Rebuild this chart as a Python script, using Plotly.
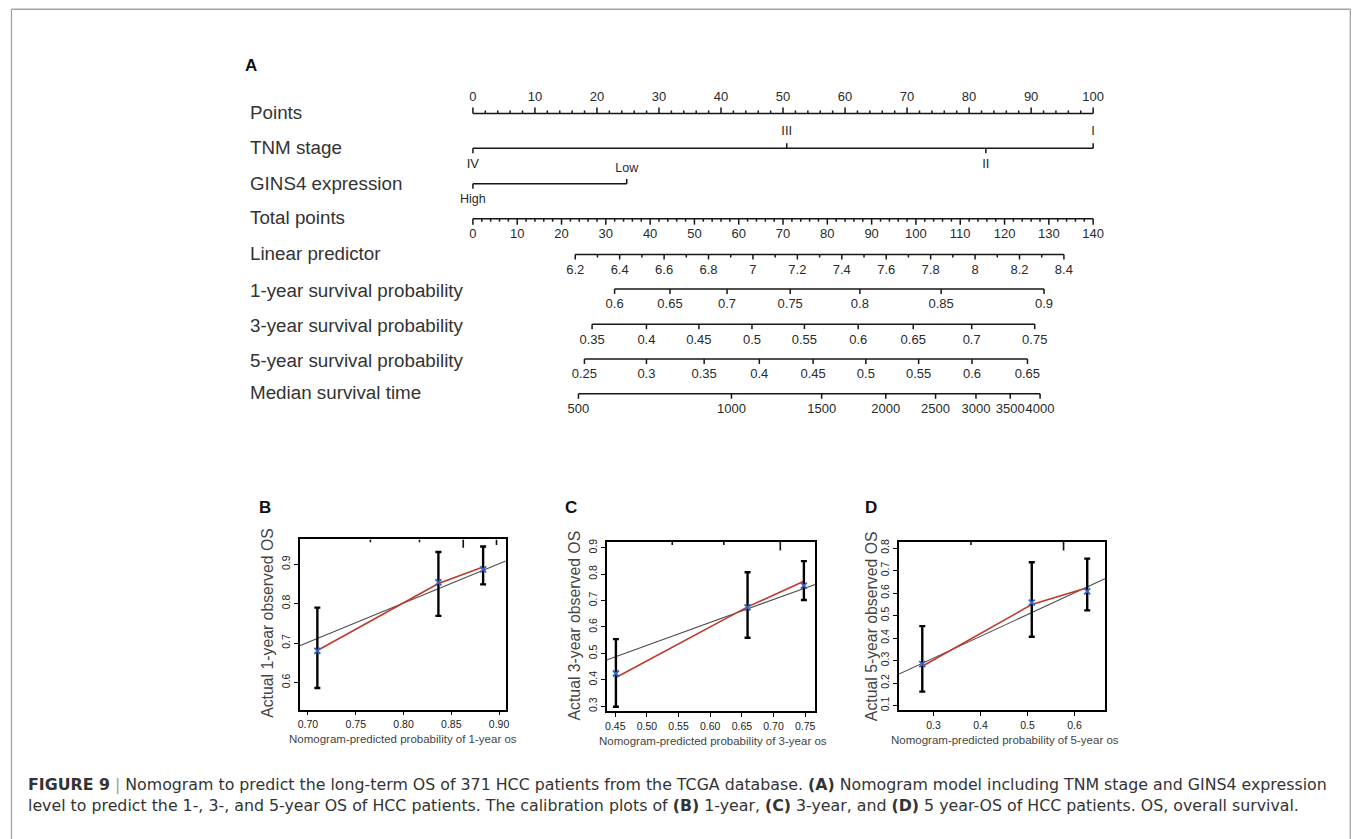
import plotly.graph_objects as go

W, H = 1357, 839
FONT = "Arial, Liberation Sans, Helvetica, sans-serif"
CAPFONT = "DejaVu Sans, Verdana, sans-serif"

# ------------------------------------------------------------------ data
# Nomogram (A) -- positions read on the "Points" (0-100) or "Total points" (0-140) scales
points_ticks = list(range(0, 101, 10))
points_minor = [v for v in range(0, 101, 2) if v % 10]
tnm_levels = ["I", "II", "III", "IV"]
tnm_points = [100.0, 82.7, 50.6, 0.0]
gins4_levels = ["Low", "High"]
gins4_points = [24.8, 0.0]
total_ticks = list(range(0, 141, 10))
total_minor = [v for v in range(0, 141, 2) if v % 10]
lp_major = [6.2, 6.4, 6.6, 6.8, 7.0, 7.2, 7.4, 7.6, 7.8, 8.0, 8.2, 8.4]
lp_major_text = ["6.2", "6.4", "6.6", "6.8", "7", "7.2", "7.4", "7.6", "7.8", "8", "8.2", "8.4"]
lp_minor = [6.3, 6.5, 6.7, 6.9, 7.1, 7.3, 7.5, 7.7, 7.9, 8.1, 8.3]
lp_anchor_lp = [6.2, 8.4]          # linear predictor values ...
lp_anchor_tp = [23.1, 133.4]       # ... at these total points
surv1_labels = ["0.6", "0.65", "0.7", "0.75", "0.8", "0.85", "0.9"]
surv1_tp = [31.98, 44.49, 57.37, 71.62, 87.35, 105.69, 128.92]
surv3_labels = ["0.35", "0.4", "0.45", "0.5", "0.55", "0.6", "0.65", "0.7", "0.75"]
surv3_tp = [26.90, 39.17, 51.01, 62.99, 74.83, 86.97, 99.39, 112.58, 126.81]
surv5_labels = ["0.25", "0.3", "0.35", "0.4", "0.45", "0.5", "0.55", "0.6", "0.65"]
surv5_tp = [25.17, 39.17, 52.20, 64.65, 76.79, 88.70, 100.61, 112.65, 125.17]
median_labels = ["500", "1000", "1500", "2000", "2500", "3000", "3500", "4000"]
median_tp = [23.82, 58.36, 78.72, 93.19, 104.43, 113.55, 121.28, 128.02]
row_names = ["Points", "TNM stage", "GINS4 expression", "Total points", "Linear predictor",
             "1-year survival probability", "3-year survival probability",
             "5-year survival probability", "Median survival time"]

# Calibration plots (B, C, D)
cal1_pred = [0.7098, 0.8365, 0.8833]
cal1_obs = [0.680, 0.854, 0.887]
cal1_lo = [0.586, 0.769, 0.849]
cal1_hi = [0.790, 0.931, 0.945]
cal1_fit = [0.681, 0.851, 0.893]
cal1_ideal_x = [0.6913, 0.907]
cal1_ideal_y = [0.693, 0.908]
cal1_rug = [0.7653, 0.8167, 0.8625, 0.8973]
cal1_rug_n = [1, 1, 3, 2]

cal3_pred = [0.451, 0.659, 0.748]
cal3_obs = [0.424, 0.674, 0.756]
cal3_lo = [0.298, 0.559, 0.702]
cal3_hi = [0.554, 0.807, 0.849]
cal3_fit = [0.409, 0.676, 0.773]
cal3_ideal_x = [0.4363, 0.7657]
cal3_ideal_y = [0.475, 0.761]
cal3_rug = [0.540, 0.6215, 0.7107]
cal3_rug_n = [1, 1, 3]

cal5_pred = [0.276, 0.509, 0.627]
cal5_obs = [0.284, 0.558, 0.608]
cal5_lo = [0.162, 0.406, 0.523]
cal5_hi = [0.453, 0.737, 0.753]
cal5_fit = [0.275, 0.549, 0.624]
cal5_ideal_x = [0.2265, 0.6657]
cal5_ideal_y = [0.240, 0.6646]
cal5_rug = [0.3796, 0.5767]
cal5_rug_n = [1, 3]

# ------------------------------------------------------------------ layout helpers
fig = go.Figure()
INK = "#161616"
TXT = "#2a2a2a"

def tp2pts(v):
    return v * 100.0 / 140.0

def lp2pts(v):
    a0, a1 = lp_anchor_lp
    t0, t1 = lp_anchor_tp
    return tp2pts(t0 + (v - a0) * (t1 - t0) / (a1 - a0))

def add_lines(xs, ys, xa="x", ya="y", width=1.5, color=INK):
    fig.add_trace(go.Scatter(x=xs, y=ys, mode="lines", xaxis=xa, yaxis=ya,
                             line=dict(color=color, width=width), hoverinfo="skip",
                             showlegend=False, connectgaps=False))

def add_text(xs, ys, texts, size=13, color=TXT):
    fig.add_trace(go.Scatter(x=xs, y=ys, text=texts, mode="text", textposition="middle center",
                             textfont=dict(size=size, color=color, family=FONT),
                             hoverinfo="skip", showlegend=False, xaxis="x", yaxis="y"))

def scale_row(pos, y, major_len, minor_pos=(), minor_len=3, direction=1):
    xs = [min(pos), max(pos), None]
    ys = [y, y, None]
    for p in pos:
        xs += [p, p, None]
        ys += [y, y + direction * major_len, None]
    for p in minor_pos:
        xs += [p, p, None]
        ys += [y, y + direction * minor_len, None]
    add_lines(xs, ys)

# nomogram rows (pixel rows on a hidden axis)
ROW_Y = [111, 146, 181.7, 216.7, 252.7, 287.3, 322.7, 357.7, 392.7]
LABEL_Y = [110, 145.5, 181, 215.5, 251.5, 289, 324, 359, 391.5]
OFF = 16.3

# Points
scale_row(points_ticks, ROW_Y[0], 6, points_minor, 3, direction=-1)
add_text(points_ticks, [ROW_Y[0] - OFF] * len(points_ticks), [str(v) for v in points_ticks])

# TNM stage
tnm_up = [lv in ("I", "III") for lv in tnm_levels]
xs = [min(tnm_points), max(tnm_points), None]
ys = [ROW_Y[1], ROW_Y[1], None]
for p, up in zip(tnm_points, tnm_up):
    xs += [p, p, None]
    ys += [ROW_Y[1], ROW_Y[1] + (-5 if up else 5), None]
add_lines(xs, ys)
add_text(tnm_points, [ROW_Y[1] + (-OFF if up else OFF) for up in tnm_up], tnm_levels)

# GINS4
g_up = [lv == "Low" for lv in gins4_levels]
xs = [min(gins4_points), max(gins4_points), None]
ys = [ROW_Y[2], ROW_Y[2], None]
for p, up in zip(gins4_points, g_up):
    xs += [p, p, None]
    ys += [ROW_Y[2], ROW_Y[2] + (-5 if up else 5), None]
add_lines(xs, ys)
add_text(gins4_points, [ROW_Y[2] + (-15.5 if up else 16) for up in g_up], gins4_levels, size=12.5)

# Total points
tp_pos = [tp2pts(v) for v in total_ticks]
scale_row(tp_pos, ROW_Y[3], 6, [tp2pts(v) for v in total_minor], 3)
add_text(tp_pos, [ROW_Y[3] + OFF] * len(tp_pos), [str(v) for v in total_ticks])

# Linear predictor
lp_pos = [lp2pts(v) for v in lp_major]
scale_row(lp_pos, ROW_Y[4], 5, [lp2pts(v) for v in lp_minor], 3)
add_text(lp_pos, [ROW_Y[4] + OFF] * len(lp_pos), lp_major_text)

# survival probabilities / median survival
for r, (labs, tps) in enumerate([(surv1_labels, surv1_tp), (surv3_labels, surv3_tp),
                                  (surv5_labels, surv5_tp), (median_labels, median_tp)]):
    y = ROW_Y[5 + r]
    pos = [tp2pts(v) for v in tps]
    scale_row(pos, y, 5)
    add_text(pos, [y + OFF] * len(pos), labs)

annotations = []
for name, y in zip(row_names, LABEL_Y):
    annotations.append(dict(text=name, x=247 / W, y=1 - y / H, xref="paper", yref="paper",
                            xanchor="left", yanchor="middle", showarrow=False,
                            font=dict(size=18.8, color="#333333", family=FONT)))

def panel_label(t, x, y):
    annotations.append(dict(text="<b>%s</b>" % t, x=x / W, y=1 - y / H, xref="paper", yref="paper",
                            xanchor="center", yanchor="middle", showarrow=False,
                            font=dict(size=17, color="#111111", family=FONT)))

panel_label("A", 250.5, 63)
panel_label("B", 264, 507)
panel_label("C", 571.5, 507)
panel_label("D", 872.5, 507)

# ------------------------------------------------------------------ calibration panels
panels = [
    dict(ax="2", box=(299, 539, 506, 710), xr=(0.6913, 0.907), yr=(0.531, 0.963),
         xt=[0.70, 0.75, 0.80, 0.85, 0.90], xfmt="%.2f", yt=[0.6, 0.7, 0.8, 0.9],
         pred=cal1_pred, obs=cal1_obs, lo=cal1_lo, hi=cal1_hi, fit=cal1_fit,
         ix=cal1_ideal_x, iy=cal1_ideal_y, rug=cal1_rug, rugn=cal1_rug_n,
         ytitle="Actual 1-year observed OS", ytx=266, yty=623,
         xtitle="Nomogram-predicted probability of 1-year os", xtx=403, xty=740),
    dict(ax="3", box=(607.3, 541.7, 816.7, 711.7), xr=(0.4363, 0.7657), yr=(0.281, 0.921),
         xt=[0.45, 0.50, 0.55, 0.60, 0.65, 0.70, 0.75], xfmt="%.2f",
         yt=[0.3, 0.4, 0.5, 0.6, 0.7, 0.8, 0.9],
         pred=cal3_pred, obs=cal3_obs, lo=cal3_lo, hi=cal3_hi, fit=cal3_fit,
         ix=cal3_ideal_x, iy=cal3_ideal_y, rug=cal3_rug, rugn=cal3_rug_n,
         ytitle="Actual 3-year observed OS", ytx=575, yty=625,
         xtitle="Nomogram-predicted probability of 3-year os", xtx=714, xty=741.5),
    dict(ax="4", box=(901, 541.7, 1108.3, 710.7), xr=(0.2265, 0.6657), yr=(0.079, 0.8265),
         xt=[0.3, 0.4, 0.5, 0.6], xfmt="%.1f", yt=[0.1, 0.2, 0.3, 0.4, 0.5, 0.6, 0.7, 0.8],
         pred=cal5_pred, obs=cal5_obs, lo=cal5_lo, hi=cal5_hi, fit=cal5_fit,
         ix=cal5_ideal_x, iy=cal5_ideal_y, rug=cal5_rug, rugn=cal5_rug_n,
         ytitle="Actual 5-year observed OS", ytx=873, yty=626,
         xtitle="Nomogram-predicted probability of 5-year os", xtx=1007.5, xty=741),
]

layout_axes = {}
for p in panels:
    xa, ya = "x" + p["ax"], "y" + p["ax"]
    x0, y0, x1, y1 = p["box"]
    add_lines(p["ix"], p["iy"], xa, ya, width=1.1, color="#4d4d4d")
    add_lines(p["pred"], p["fit"], xa, ya, width=1.6, color="#c0392b")
    unit = (p["yr"][1] - p["yr"][0]) / (y1 - y0) * 2.8
    rx, ry = [], []
    for v, n in zip(p["rug"], p["rugn"]):
        rx += [v, v, None]
        ry += [p["yr"][1], p["yr"][1] - n * unit, None]
    add_lines(rx, ry, xa, ya, width=1.6, color="#111111")
    fig.add_trace(go.Scatter(
        x=p["pred"], y=p["obs"], mode="markers", xaxis=xa, yaxis=ya, showlegend=False,
        hoverinfo="skip",
        marker=dict(symbol="x-thin", size=6, color="#3563c9", line=dict(color="#3563c9", width=1.8)),
        error_y=dict(type="data", symmetric=False,
                     array=[h - o for h, o in zip(p["hi"], p["obs"])],
                     arrayminus=[o - l for o, l in zip(p["obs"], p["lo"])],
                     color="#000000", thickness=2.4, width=3)))
    common = dict(showline=True, linecolor="#000000", linewidth=1.5, mirror=True,
                  ticks="outside", ticklen=4, tickwidth=1, tickcolor="#000000",
                  showgrid=False, zeroline=False)
    layout_axes["xaxis" + p["ax"]] = dict(
        domain=[x0 / W, x1 / W], range=list(p["xr"]), anchor=ya,
        tickvals=p["xt"], ticktext=[p["xfmt"] % v for v in p["xt"]],
        tickfont=dict(size=10.5, color="#222222", family=FONT), **common)
    layout_axes["yaxis" + p["ax"]] = dict(
        domain=[1 - y1 / H, 1 - y0 / H], range=list(p["yr"]), anchor=xa,
        tickvals=p["yt"], ticktext=["%.1f" % v for v in p["yt"]], tickangle=-90,
        tickfont=dict(size=10.5, color="#222222", family=FONT), **common)
    annotations.append(dict(text=p["ytitle"], x=p["ytx"] / W, y=1 - p["yty"] / H,
                            xref="paper", yref="paper", textangle=-90, showarrow=False,
                            xanchor="center", yanchor="middle",
                            font=dict(size=15.8, color="#444444", family=FONT)))
    annotations.append(dict(text=p["xtitle"], x=p["xtx"] / W, y=1 - p["xty"] / H,
                            xref="paper", yref="paper", showarrow=False,
                            xanchor="center", yanchor="middle",
                            font=dict(size=11.5, color="#444444", family=FONT)))

# ------------------------------------------------------------------ caption (one block, two lines)
caption = ("<b>FIGURE 9</b> <span style='color:#9a9a9a'>|</span> Nomogram to predict the long-term OS of 371 HCC "
           "patients from the TCGA database. <b>(A)</b> Nomogram model including TNM stage and GINS4 expression"
           "<br>level to predict the 1-, 3-, and 5-year OS of HCC patients. The calibration plots of <b>(B)</b> 1-year, "
           "<b>(C)</b> 3-year, and <b>(D)</b> 5 year-OS of HCC patients. OS, overall survival.")
annotations.append(dict(text=caption, x=24 / W, y=1 - 796 / H, xref="paper", yref="paper",
                        xanchor="left", yanchor="middle", align="left", showarrow=False,
                        font=dict(size=15.8, color="#333333", family=CAPFONT)))

# outer frame
PX0 = 473.0
PX100 = 1096.0
ppp = (PX100 - PX0) / 100.0
shapes = [
    dict(type="line", xref="paper", yref="paper", x0=9.5 / W, x1=9.5 / W, y0=-0.05, y1=1 - 6.3 / H,
         line=dict(color="#a3a3a3", width=1.3)),
    dict(type="line", xref="paper", yref="paper", x0=9.5 / W, x1=1354.3 / W, y0=1 - 6.3 / H, y1=1 - 6.3 / H,
         line=dict(color="#a3a3a3", width=1.3)),
    dict(type="line", xref="paper", yref="paper", x0=1354.3 / W, x1=1354.3 / W, y0=-0.05, y1=1 - 6.3 / H,
         line=dict(color="#a3a3a3", width=1.3)),
]

fig.update_layout(
    width=W, height=H, margin=dict(l=0, r=0, t=0, b=0),
    paper_bgcolor="white", plot_bgcolor="rgba(0,0,0,0)",
    showlegend=False, font=dict(family=FONT),
    xaxis=dict(domain=[0, 1], range=[-PX0 / ppp, (W - PX0) / ppp], visible=False, fixedrange=True),
    yaxis=dict(domain=[0, 1], range=[H, 0], visible=False, fixedrange=True),
    annotations=annotations, shapes=shapes, **layout_axes)

fig.write_html("out.html")
